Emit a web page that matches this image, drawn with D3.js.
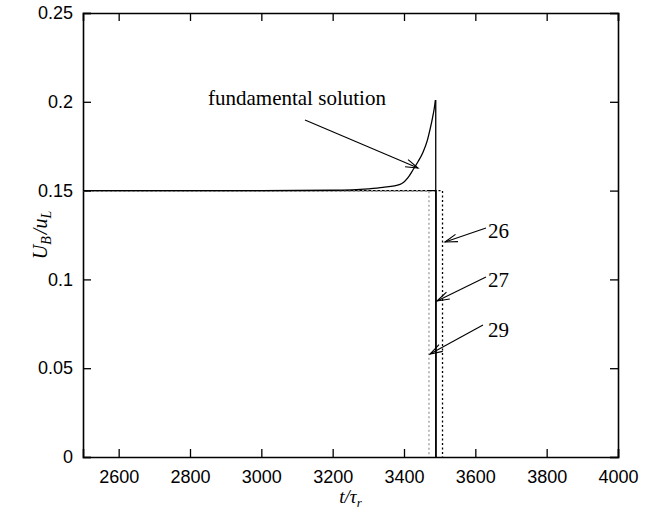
<!DOCTYPE html>
<html>
<head>
<meta charset="utf-8">
<script src="https://cdn.jsdelivr.net/npm/d3@7"></script>
<style>
  body { margin: 0; background: #fff; }
  .tick text { font-family: "Liberation Sans", Arial, sans-serif; font-size: 18px; fill: #000; }
</style>
</head>
<body>
<div class="chart"></div>
<script>
var svgWidth = 654;
var svgHeight = 512;

var margin = { top: 13, right: 36, bottom: 55, left: 83 };
var width = svgWidth - margin.left - margin.right;
var height = svgHeight - margin.top - margin.bottom;

// fundamental solution
var fundTime = [2500, 3000, 3200, 3300, 3341, 3389, 3410, 3425, 3440, 3453, 3465, 3473, 3480, 3485, 3488];
var fundU    = [0.15, 0.15, 0.1502, 0.151, 0.1518, 0.1535, 0.157, 0.1616, 0.1665, 0.1715, 0.178, 0.1845, 0.191, 0.1965, 0.201];
var fundDrop = 3489;

// step curves: level then drop to zero
var caseLabels = ["26", "27", "29"];
var caseLevel = [0.15, 0.15, 0.15];
var caseDrop = [3508, 3490, 3470];

var xTicks = [2600, 2800, 3000, 3200, 3400, 3600, 3800, 4000];
var yTicks = [0, 0.05, 0.1, 0.15, 0.2, 0.25];

var svg = d3.select(".chart")
  .append("svg")
  .attr("width", svgWidth)
  .attr("height", svgHeight);

var chartGroup = svg.append("g")
  .attr("transform", `translate(${margin.left}, ${margin.top})`);

var x = d3.scaleLinear().domain([2500, 4000]).range([0, width]);
var y = d3.scaleLinear().domain([0, 0.25]).range([height, 0]);

// axes with inward ticks, mirrored on top and right
var bottomAxis = d3.axisBottom(x).tickValues(xTicks).tickSize(-8).tickPadding(13).tickFormat(d3.format("d"));
var leftAxis = d3.axisLeft(y).tickValues(yTicks).tickSize(-8).tickPadding(10).tickFormat(d => d === 0 ? "0" : String(d));
var topAxis = d3.axisTop(x).tickValues(xTicks).tickSize(-8).tickFormat("");
var rightAxis = d3.axisRight(y).tickValues(yTicks).tickSize(-8).tickFormat("");

chartGroup.append("g").attr("transform", `translate(0, ${height})`).call(bottomAxis);
chartGroup.append("g").call(leftAxis);
chartGroup.append("g").call(topAxis);
chartGroup.append("g").attr("transform", `translate(${width}, 0)`).call(rightAxis);

chartGroup.selectAll(".domain").attr("stroke", "#000").attr("stroke-width", 1.6);
chartGroup.selectAll(".tick line").attr("stroke", "#000").attr("stroke-width", 1.3);

var line = d3.line().x(d => x(d[0])).y(d => y(d[1]));

// step curves
var caseStyles = [
  { color: "#000", dash: "2,2.5" },
  { color: "#000", dash: null },
  { color: "#999", dash: "2,2.5" }
];
caseLabels.forEach(function (lab, i) {
  var pts = [[2500, caseLevel[i]], [caseDrop[i], caseLevel[i]], [caseDrop[i], 0]];
  chartGroup.append("path")
    .attr("d", line(pts))
    .attr("fill", "none")
    .attr("stroke", caseStyles[i].color)
    .attr("stroke-width", 1.3)
    .attr("stroke-dasharray", caseStyles[i].dash);
});

// fundamental solution: smooth rise, then vertical drop
var smooth = d3.line().x(d => x(d[0])).y(d => y(d[1])).curve(d3.curveMonotoneX);
chartGroup.append("path")
  .attr("d", smooth(d3.zip(fundTime, fundU)))
  .attr("fill", "none")
  .attr("stroke", "#000")
  .attr("stroke-width", 1.3);
chartGroup.append("path")
  .attr("d", line([[fundDrop, fundU[fundU.length - 1]], [fundDrop, 0]]))
  .attr("fill", "none")
  .attr("stroke", "#000")
  .attr("stroke-width", 1.3);

// annotations
function arrow(x1, y1, x2, y2) {
  var a = Math.atan2(y2 - y1, x2 - x1);
  var len = 13, spread = 0.3;
  var g = svg.append("g").attr("stroke", "#000").attr("stroke-width", 1.1).attr("fill", "none");
  g.append("line").attr("x1", x1).attr("y1", y1).attr("x2", x2).attr("y2", y2);
  g.append("path").attr("d",
    `M${x2 - len * Math.cos(a - spread)},${y2 - len * Math.sin(a - spread)}L${x2},${y2}L${x2 - len * Math.cos(a + spread)},${y2 - len * Math.sin(a + spread)}`);
}

svg.append("text")
  .attr("x", 208).attr("y", 105)
  .attr("font-family", "Liberation Serif, serif")
  .attr("font-size", 21)
  .text("fundamental solution");
arrow(305, 120, 418, 168);

var labelPos = [[488, 238, 486, 228, 445, 242], [488, 287, 486, 277, 437, 301], [488, 337, 483, 325, 430, 354]];
caseLabels.forEach(function (lab, i) {
  var p = labelPos[i];
  svg.append("text")
    .attr("x", p[0]).attr("y", p[1])
    .attr("font-family", "Liberation Serif, serif")
    .attr("font-size", 21)
    .text(lab);
  arrow(p[2], p[3], p[4], p[5]);
});

// axis titles
var xt = svg.append("text")
  .attr("x", margin.left + width / 2).attr("y", 503)
  .attr("text-anchor", "middle")
  .attr("font-family", "Liberation Serif, serif")
  .attr("font-style", "italic")
  .attr("font-size", 19);
xt.append("tspan").text("t/τ");
xt.append("tspan").attr("font-size", 13).attr("dy", 4).text("r");

var yt = svg.append("text")
  .attr("transform", `translate(47, ${margin.top + height / 2}) rotate(-90)`)
  .attr("text-anchor", "middle")
  .attr("font-family", "Liberation Serif, serif")
  .attr("font-style", "italic")
  .attr("font-size", 20);
yt.append("tspan").text("U");
yt.append("tspan").attr("font-size", 14).attr("dy", 4).text("B");
yt.append("tspan").attr("dy", -4).attr("dx", 2).text("/u");
yt.append("tspan").attr("font-size", 14).attr("dy", 4).text("L");
</script>
</body>
</html>
